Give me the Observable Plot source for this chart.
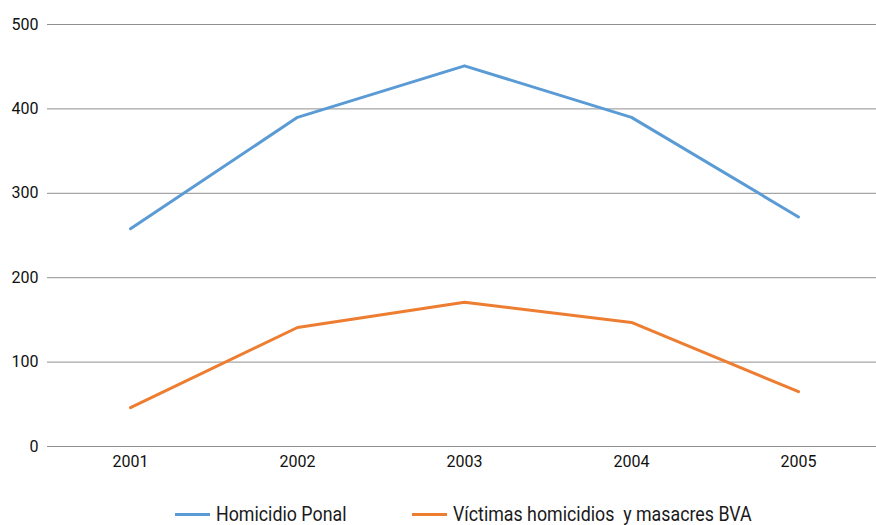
<!DOCTYPE html>
<html>
<head>
<meta charset="utf-8">
<script src="https://cdn.jsdelivr.net/npm/d3@7"></script>
<script src="https://cdn.jsdelivr.net/npm/@observablehq/plot@0.6"></script>
<style>
  body { margin: 0; background: #fff; font-family: Roboto, sans-serif; }
  #legend { font-size: 20px; color: #1a1a1a; position: relative; height: 35px; }
  .item { position: absolute; top: 12px; display: flex; align-items: center; white-space: nowrap; }
  .sw { width: 35px; height: 3px; margin-right: 6px; }
  .txt { display: inline-block; transform: scaleX(0.89); transform-origin: left center; }
</style>
</head>
<body>
<div id="chart"></div>
<div id="legend"></div>
<script>
const years = ["2001", "2002", "2003", "2004", "2005"];
const homicidioPonal = [258, 390, 451, 390, 272];
const victimasBVA = [46, 141, 171, 147, 65];
const seriesNames = ["Homicidio Ponal", "Víctimas homicidios  y masacres BVA"];
const seriesColors = ["#5b9bd5", "#ed7d31"];
const yTicks = [0, 100, 200, 300, 400, 500];

const data = [];
years.forEach((y, i) => {
  data.push({year: y, value: homicidioPonal[i], series: seriesNames[0]});
  data.push({year: y, value: victimasBVA[i], series: seriesNames[1]});
});

const chart = Plot.plot({
  width: 876,
  height: 490,
  marginLeft: 47,
  marginRight: 0,
  marginTop: 24,
  marginBottom: 44,
  style: {fontFamily: "Roboto, sans-serif", fontSize: "16px", color: "#111"},
  x: {type: "point", domain: years, range: [130, 798], padding: 0, label: null, tickSize: 0, tickPadding: 9},
  y: {domain: [0, 500], ticks: yTicks, label: null, tickSize: 0, tickPadding: 9},
  color: {domain: seriesNames, range: seriesColors},
  marks: [
    Plot.ruleY(yTicks, {stroke: "#8f8f8f", strokeWidth: 1}),
    Plot.line(data, {x: "year", y: "value", stroke: "series", strokeWidth: 3})
  ]
});
document.getElementById("chart").appendChild(chart);

const legend = document.getElementById("legend");
const lefts = [175, 412];
seriesNames.forEach((n, i) => {
  const it = document.createElement("div");
  it.className = "item";
  it.style.left = lefts[i] + "px";
  it.innerHTML = `<span class="sw" style="background:${seriesColors[i]}"></span><span class="txt">${n.replace(/  /g, " &nbsp;")}</span>`;
  legend.appendChild(it);
});
</script>
</body>
</html>
